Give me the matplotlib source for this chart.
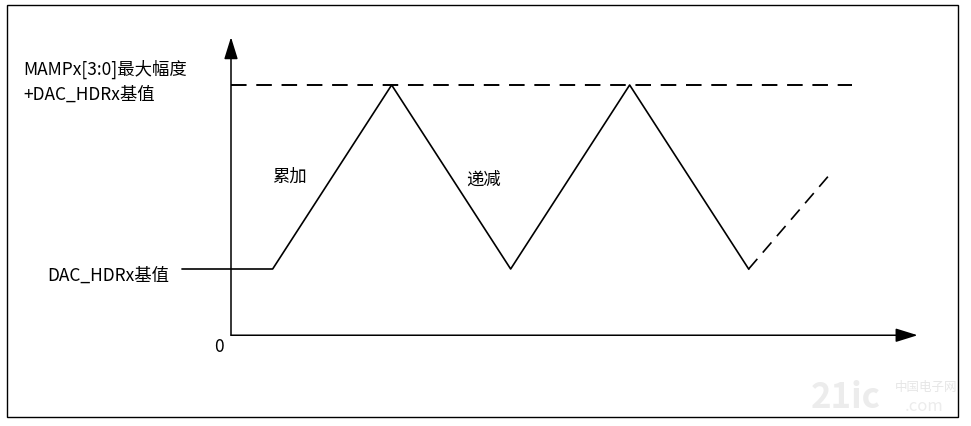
import matplotlib
matplotlib.use('Agg')
import matplotlib.pyplot as plt
from matplotlib.patches import Rectangle

plt.rcParams['font.family'] = ['Noto Sans CJK SC', 'DejaVu Sans']

# waveform: time in ramp periods, level 0 = DAC_HDRx base, 1 = max amplitude
wave_t = [-0.41, 0.35, 1.35, 2.35, 3.35, 4.35]
wave_v = [0.0, 0.0, 1.0, 0.0, 1.0, 0.0]
tail_t = [4.35, 5.02]
tail_v = [0.0, 0.505]
max_t = [0.0, 5.22]
max_v = [1.0, 1.0]
axis_v = -0.36      # level where the time axis sits
axis_top = 1.26     # tip of the vertical arrow
axis_end = 5.77     # tip of the horizontal arrow

labels_top = 'MAMPx[3:0]最大幅度\n+DAC_HDRx基值'
label_base = 'DAC_HDRx基值'
label_up = '累加'
label_down = '递减'

W, H = 971, 427
X0, Y0 = 231, 270      # pixel of t=0, v=0 (from top)
SX, SY = 119, 184      # pixels per unit

fig = plt.figure(figsize=(W / 100, H / 100), dpi=100)
fig.patch.set_facecolor('white')
ax = fig.add_axes([0, 0, 1, 1])
ax.set_xlim(-X0 / SX, (W - X0) / SX)
ax.set_ylim(-(H - Y0) / SY, Y0 / SY)
ax.axis('off')

def px(x, y):
	return ((x - X0) / SX, (Y0 - y) / SY)

# outer frame
fig.patches.append(Rectangle((7 / W, (H - 418) / H), 951 / W, 412 / H, transform=fig.transFigure,
	fill=False, edgecolor='black', lw=1.0))

# axes with arrows
arr = dict(arrowstyle='-|>,head_length=1.35,head_width=0.42', lw=1.1, color='black',
	mutation_scale=10, shrinkA=0, shrinkB=0)
ax.annotate('', xy=(0, axis_top), xytext=(0, axis_v), arrowprops=arr, annotation_clip=False)
ax.annotate('', xy=(axis_end, axis_v), xytext=(0, axis_v), arrowprops=arr, annotation_clip=False)

# waveform
ax.plot(max_t, max_v, color='black', lw=1.4, ls=(0, (8, 5)), clip_on=False)
ax.plot(wave_t, wave_v, color='black', lw=1.2, clip_on=False)
ax.plot(tail_t, tail_v, color='black', lw=1.2, ls=(0, (8, 5)), clip_on=False)

fs = 12.5
ax.text(*px(23, 82), labels_top, fontsize=fs, ha='left', va='center', linespacing=1.45)
ax.text(*px(47, 276), label_base, fontsize=fs, ha='left', va='center')
ax.text(*px(219, 347), '0', fontsize=fs, ha='center', va='center')
ax.text(*px(290, 177), label_up, fontsize=fs, ha='center', va='center')
ax.text(*px(483, 180), label_down, fontsize=fs, ha='center', va='center')

# faint watermark
ax.text(*px(846, 398), '21ic', fontsize=25, fontweight='bold', color='#ececec', ha='center', va='center')
ax.text(*px(926, 387), '中国电子网', fontsize=9, color='#e6e6e6', ha='center', va='center')
ax.text(*px(924, 407), '.com', fontsize=12, style='italic', color='#ececec', ha='center', va='center')

fig.savefig('out.png', dpi=100, facecolor='white')
